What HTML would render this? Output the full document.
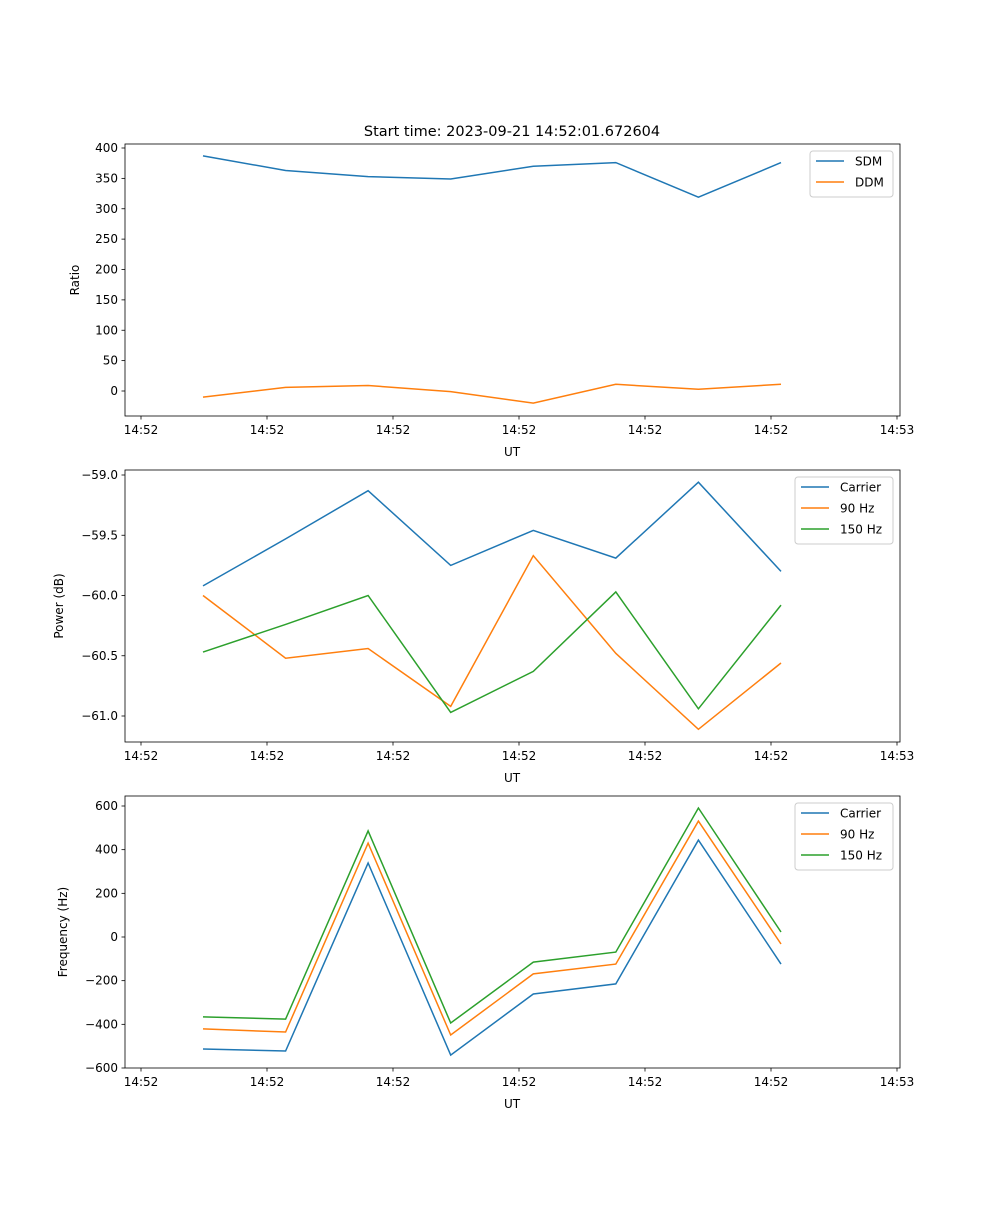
<!DOCTYPE html>
<html><head><meta charset="utf-8">
<style>
body{margin:0;background:#fff;font-family:"Liberation Sans","DejaVu Sans",sans-serif;}
svg text{font-family:"DejaVu Sans","Liberation Sans",sans-serif;}
</style></head>
<body>
<svg id="fig" width="1000" height="1200" xmlns="http://www.w3.org/2000/svg"></svg>
<script>
const xTickLabels=["14:52","14:52","14:52","14:52","14:52","14:52","14:53"];
const sampleIndex=[0,1,2,3,4,5,6,7];
const sdm=[387,363,353,349,370,376,319,376];
const ddm=[-10,6,9,-1,-20,11,3,11];
const pwrCarrier=[-59.92,-59.53,-59.13,-59.75,-59.46,-59.69,-59.06,-59.80];
const pwr90=[-60.0,-60.52,-60.44,-60.92,-59.67,-60.48,-61.11,-60.56];
const pwr150=[-60.47,-60.24,-60.0,-60.97,-60.63,-59.97,-60.94,-60.08];
const frqCarrier=[-513,-522,339,-541,-261,-215,444,-124];
const frq90=[-421,-435,430,-449,-169,-124,531,-32];
const frq150=[-366,-376,486,-394,-115,-69,591,23];
const ratioTicks=[0,50,100,150,200,250,300,350,400];
const powerTicks=[-61.0,-60.5,-60.0,-59.5,-59.0];
const freqTicks=[-600,-400,-200,0,200,400,600];

const NS="http://www.w3.org/2000/svg";
const svg=document.getElementById('fig');
function el(tag,attrs,parent){const e=document.createElementNS(NS,tag);for(const k in attrs)e.setAttribute(k,attrs[k]);(parent||svg).appendChild(e);return e;}
const L=125,R=900;
const xScale=i=>203+i*82.57;
const xTickPx=[141,267,393,519,645,771,897];
const colors=["#1f77b4","#ff7f0e","#2ca02c"];

function panel(name,top,bot,y0v,y0p,y1v,y1p,ticks,fmt,series,labels,ylabel,legendW,yLabelX){
  const g=el('g',{});
  
  
  const ys=v=>y0p+(v-y0v)*(y1p-y0p)/(y1v-y0v);
  series.forEach((s,k)=>{
    const pts=sampleIndex.map(i=>xScale(i).toFixed(1)+","+ys(s[i]).toFixed(1)).join(" ");
    const p=el('polyline',{points:pts,fill:"none",stroke:colors[k],"stroke-width":1.5},g);
    
    
  });
  const frame=el('rect',{x:L,y:top,width:R-L,height:bot-top,fill:"none",stroke:"#000","stroke-width":0.8},g);
  
  
  ticks.forEach(t=>{
    const y=ys(t);
    el('line',{x1:L-3.5,x2:L,y1:y,y2:y,stroke:"#000","stroke-width":0.8},g);
    const tx=el('text',{x:L-7,y:y+4,"font-size":12,"text-anchor":"end"},g);
    tx.textContent=fmt(t);
    
    
  });
  xTickLabels.forEach((lab,i)=>{
    const x=xTickPx[i];
    el('line',{x1:x,x2:x,y1:bot,y2:bot+3.5,stroke:"#000","stroke-width":0.8},g);
    const tx=el('text',{x:x,y:bot+18,"font-size":12,"text-anchor":"middle"},g);
    tx.textContent=lab;
    
    
  });
  const xl=el('text',{x:512,y:bot+40,"font-size":12,"text-anchor":"middle"},g);
  xl.textContent="UT";
  
  
  const yc=(top+bot)/2;
  const yl=el('text',{x:yLabelX,y:yc,"font-size":12,"text-anchor":"middle",transform:`rotate(-90 ${yLabelX} ${yc})`},g);
  yl.textContent=ylabel;
  
  
  const lw=legendW, lh=4+labels.length*21, lx=R-7-lw, ly=top+7;
  const lg=el('g',{},g);
  
  
  el('rect',{x:lx,y:ly,width:lw,height:lh,rx:3,fill:"#fff","fill-opacity":0.8,stroke:"#ccc"},lg);
  labels.forEach((lab,k)=>{
    const yy=ly+10+k*21;
    const ent=el('g',{},lg);
    
    
    el('line',{x1:lx+6,x2:lx+34,y1:yy,y2:yy,stroke:colors[k],"stroke-width":1.5},ent);
    const t=el('text',{x:lx+45,y:yy+4.5,"font-size":12},ent);
    t.textContent=lab;
  });
}
const tt=el('text',{x:512,y:136,"font-size":14.5,"text-anchor":"middle"});
tt.textContent="Start time: 2023-09-21 14:52:01.672604";



panel('ratio-panel',144,416,0,391,400,148,ratioTicks,v=>v===0?"0":String(v),[sdm,ddm],["SDM","DDM"],"Ratio",83,79);
panel('power-panel',470,742,-59,475,-61,716,powerTicks,v=>v.toFixed(1).replace('-','\u2212'),[pwrCarrier,pwr90,pwr150],["Carrier","90 Hz","150 Hz"],"Power (dB)",98,63);
panel('frequency-panel',796,1068,0,937,600,806,freqTicks,v=>String(v).replace('-','\u2212'),[frqCarrier,frq90,frq150],["Carrier","90 Hz","150 Hz"],"Frequency (Hz)",98,67);
</script>
</body></html>
